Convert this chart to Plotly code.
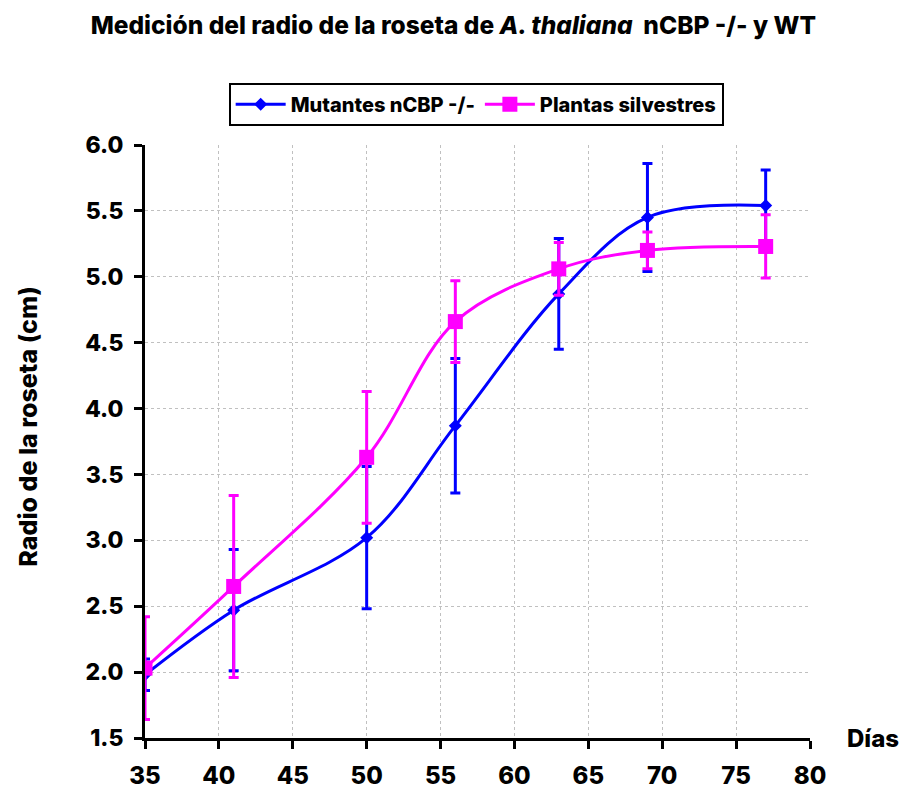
import plotly.graph_objects as go

dias = [35, 41, 50, 56, 63, 69, 77]
mutantes = [1.98, 2.47, 3.02, 3.87, 4.87, 5.45, 5.54]
mutantes_err = [0.12, 0.46, 0.54, 0.51, 0.42, 0.41, 0.27]
silvestres = [2.03, 2.65, 3.63, 4.66, 5.06, 5.20, 5.23]
silvestres_err = [0.39, 0.69, 0.50, 0.31, 0.20, 0.14, 0.24]

FONT = "Inter, DejaVu Sans, Liberation Sans, Arial, sans-serif"
W = 800

fig = go.Figure()
fig.add_trace(go.Scatter(
    x=dias, y=mutantes, name="Mutantes nCBP -/-",
    mode="lines+markers",
    line=dict(color="#0000FF", width=3, shape="spline", smoothing=1),
    marker=dict(symbol="diamond", size=10, color="#0000FF"),
    error_y=dict(type="data", array=mutantes_err, visible=True,
                 color="#0000FF", thickness=3, width=5),
))
fig.add_trace(go.Scatter(
    x=dias, y=silvestres, name="Plantas silvestres",
    mode="lines+markers",
    line=dict(color="#FF00FF", width=3, shape="spline", smoothing=1),
    marker=dict(symbol="square", size=15, color="#FF00FF"),
    error_y=dict(type="data", array=silvestres_err, visible=True,
                 color="#FF00FF", thickness=3, width=5),
))

fig.update_layout(
    width=907, height=792,
    paper_bgcolor="white", plot_bgcolor="white",
    margin=dict(l=137, r=105, t=137, b=62, autoexpand=False),
    font=dict(family=FONT, color="black"),
    title=dict(
        text="Medición del radio de la roseta de <i>A. thaliana</i>  nCBP -/- y WT",
        x=0.491, xref="container", xanchor="center", y=0.978, yanchor="middle",
        font=dict(size=24.5, family=FONT, color="black", weight=W),
    ),
    legend=dict(
        orientation="h", x=0.498, xanchor="center", y=1.105, yanchor="top",
        bordercolor="black", borderwidth=2, bgcolor="white",
        font=dict(size=20, family=FONT, color="black", weight=W),
        itemwidth=50,
    ),
    showlegend=True,
)

fig.update_xaxes(
    range=[35, 80], dtick=5, tick0=35,
    showline=True, linecolor="black", linewidth=3,
    ticks="outside", ticklen=8, tickwidth=3, tickcolor="black",
    showgrid=True, gridcolor="#c0c0c0", griddash="dot", gridwidth=1,
    tickfont=dict(size=24, family=FONT, color="black", weight=W),
    ticklabelstandoff=6,
    zeroline=False, automargin=False,
)
fig.update_yaxes(
    range=[1.5, 6.0], dtick=0.5, tick0=1.5, tickformat=".1f",
    showline=True, linecolor="black", linewidth=3,
    ticks="outside", ticklen=8, tickwidth=3, tickcolor="black",
    showgrid=True, gridcolor="#c0c0c0", griddash="dot", gridwidth=1,
    tickfont=dict(size=23, family=FONT, color="black", weight=W),
    ticklabelstandoff=6,
    zeroline=False, automargin=False,
)

fig.add_annotation(
    text="Radio de la roseta (cm)", xref="paper", yref="paper",
    x=-0.176, y=0.525, xanchor="center", yanchor="middle", textangle=-90,
    showarrow=False, font=dict(size=25, family=FONT, color="black", weight=W),
)
fig.add_annotation(
    text="Días", xref="paper", yref="paper", x=1.052, y=0.0,
    xanchor="left", yanchor="middle", showarrow=False,
    font=dict(size=24, family=FONT, color="black", weight=W),
)

fig.write_html("out.html")
